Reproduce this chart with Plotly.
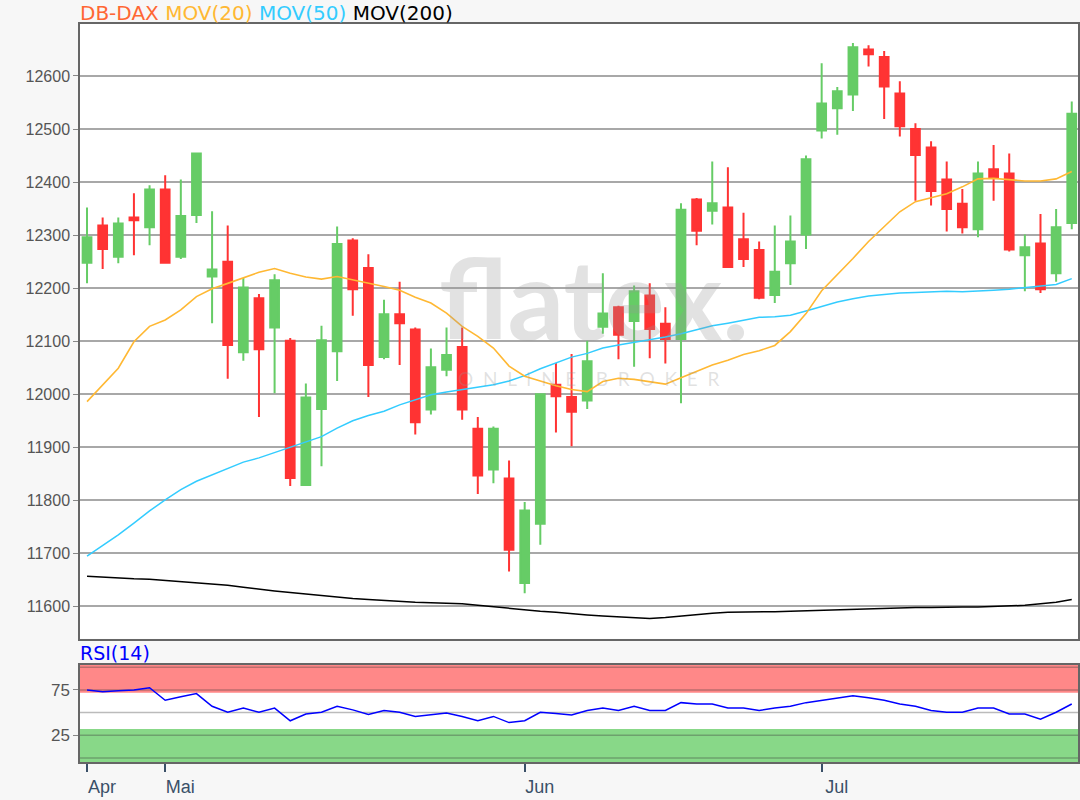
import plotly.graph_objects as go

# ---------------- data ----------------
dates = [
    "2019-04-24", "2019-04-25", "2019-04-26", "2019-04-29", "2019-04-30",
    "2019-05-01", "2019-05-02", "2019-05-03", "2019-05-06", "2019-05-07", "2019-05-08",
    "2019-05-09", "2019-05-10", "2019-05-13", "2019-05-14", "2019-05-15", "2019-05-16",
    "2019-05-17", "2019-05-20", "2019-05-21", "2019-05-22", "2019-05-23", "2019-05-24",
    "2019-05-27", "2019-05-28", "2019-05-29", "2019-05-30", "2019-05-31",
    "2019-06-03", "2019-06-04", "2019-06-05", "2019-06-06", "2019-06-07",
    "2019-06-11", "2019-06-12", "2019-06-13", "2019-06-14",
    "2019-06-17", "2019-06-18", "2019-06-19", "2019-06-20", "2019-06-21",
    "2019-06-24", "2019-06-25", "2019-06-26", "2019-06-27", "2019-06-28",
    "2019-07-01", "2019-07-02", "2019-07-03", "2019-07-04", "2019-07-05",
    "2019-07-08", "2019-07-09", "2019-07-10", "2019-07-11", "2019-07-12",
    "2019-07-15", "2019-07-16", "2019-07-17", "2019-07-18", "2019-07-19",
    "2019-07-22", "2019-07-23",
]

opens = [12248, 12318, 12259, 12333, 12315, 12386, 12259, 12338, 12222, 12250,
         12079, 12181, 12126, 12101, 11829, 11972, 12081, 12290, 12238, 12070,
         12151, 12122, 11971, 12046, 12089, 11935, 11858, 11841, 11644, 11756,
         12018, 11995, 11988, 12127, 12164, 12138, 12186, 12133, 12104, 12367,
         12346, 12352, 12292, 12272, 12187, 12247, 12301, 12497, 12539, 12565,
         12650, 12636, 12567, 12500, 12465, 12405, 12359, 12311, 12424, 12416,
         12262, 12284, 12228, 12323]
highs = [12352, 12333, 12333, 12379, 12394, 12413, 12405, 12454, 12345, 12318,
         12219, 12189, 12226, 12106, 12020, 12129, 12316, 12294, 12264, 12178,
         12212, 12126, 12086, 12126, 12126, 11957, 11939, 11875, 11797, 12002,
         12059, 12076, 12101, 12228, 12167, 12205, 12209, 12164, 12360, 12370,
         12439, 12428, 12342, 12288, 12318, 12337, 12450, 12624, 12579, 12662,
         12658, 12647, 12590, 12511, 12477, 12439, 12387, 12439, 12470, 12454,
         12301, 12340, 12349, 12552]
lows = [12209, 12236, 12247, 12262, 12281, 12247, 12255, 12323, 12134, 12029,
        12063, 11957, 12002, 11827, 11827, 11864, 12025, 12148, 11995, 12066,
        12055, 11924, 11962, 12034, 11952, 11812, 11832, 11666, 11625, 11716,
        11928, 11902, 11972, 12114, 12066, 12052, 12068, 12058, 11983, 12281,
        12320, 12240, 12240, 12179, 12172, 12206, 12274, 12482, 12489, 12534,
        12618, 12519, 12486, 12365, 12356, 12307, 12303, 12296, 12365, 12269,
        12194, 12191, 12212, 12311]
closes = [12296, 12274, 12322, 12328, 12386, 12248, 12336, 12454, 12235, 12093,
          12201, 12085, 12215, 11842, 11994, 12102, 12283, 12198, 12055, 12151,
          12134, 11947, 12051, 12074, 11971, 11847, 11935, 11707, 11781, 12000,
          11996, 11967, 12062, 12152, 12112, 12194, 12123, 12104, 12348, 12308,
          12360, 12240, 12255, 12182, 12231, 12288, 12443, 12548, 12571, 12654,
          12641, 12580, 12505, 12451, 12383, 12349, 12315, 12416, 12409, 12273,
          12277, 12198, 12315, 12529]

ma20 = [11986, 12018, 12049, 12099, 12128, 12140, 12159, 12184, 12199, 12209,
        12219, 12230, 12237, 12228, 12221, 12217, 12222, 12216, 12209, 12203,
        12196, 12183, 12172, 12153, 12128, 12109, 12087, 12053, 12034, 12025,
        12016, 12009, 12005, 12024, 12030, 12028, 12023, 12019, 12031, 12043,
        12055, 12064, 12075, 12082, 12092, 12118, 12152, 12195, 12225, 12256,
        12288, 12316, 12344, 12363, 12371, 12378, 12391, 12406, 12407, 12404,
        12402, 12402, 12406, 12420]
ma50 = [11695, 11715, 11735, 11757, 11780, 11801, 11820, 11836, 11848, 11859,
        11872, 11880, 11890, 11899, 11910, 11920, 11936, 11950, 11960, 11968,
        11980, 11990, 11999, 12004, 12009, 12014, 12018, 12025, 12035, 12048,
        12059, 12070, 12077, 12087, 12093, 12098, 12102, 12108, 12114, 12121,
        12129, 12134, 12139, 12145, 12146, 12149, 12157, 12165, 12174, 12180,
        12185, 12188, 12191, 12192, 12193, 12194, 12193, 12194, 12196, 12198,
        12201, 12203, 12207, 12218]
ma200 = [11657, 11655, 11653, 11652, 11651, 11649, 11647, 11645, 11643, 11640,
         11636, 11632, 11629, 11626, 11623, 11620, 11617, 11615, 11613, 11611,
         11609, 11608, 11607, 11606, 11605, 11602, 11599, 11596, 11593, 11591,
         11589, 11586, 11584, 11582, 11580, 11578, 11577, 11579, 11582, 11585,
         11587, 11589, 11589, 11589, 11590, 11591, 11592, 11593, 11594, 11595,
         11596, 11597, 11597, 11598, 11598, 11599, 11599, 11599, 11600, 11600,
         11602, 11605, 11608, 11613]
rsi = [75, 73, 74, 75, 77.5, 63.6, 67.4, 71, 57, 50.4,
       55, 50.4, 55, 41, 48.5, 50.4, 57, 53, 48, 52.3,
       50.4, 45.8, 47.7, 49.6, 45.8, 41, 45.8, 39, 41, 50.4,
       49, 47.3, 52.3, 55, 52.3, 57, 52.3, 52.3, 61, 59.5,
       59.5, 55, 55, 52.3, 55, 57, 61, 63.3, 65.5, 68.6,
       66.3, 63.6, 59.5, 57, 52.3, 50.4, 50.4, 55, 55, 48.5,
       48.5, 42.8, 50.4, 59.5]

price_ticks = [11600, 11700, 11800, 11900, 12000, 12100, 12200, 12300, 12400, 12500, 12600]
month_ticks = ["2019-04-24", "2019-05-01", "2019-06-03", "2019-07-01"]
month_labels = ["Apr", "Mai", "Jun", "Jul"]
rsi_ticks = [25, 75]
rsi_grid = [0, 25, 50, 75, 100]

# ---------------- styling ----------------
GREEN = "#66cc66"
RED = "#ff3333"
C20 = "#ffb833"
C50 = "#33ccff"
C200 = "#000000"
FONT = "Liberation Sans, Arial, sans-serif"

fig = go.Figure()

fig.add_trace(go.Candlestick(
    x=dates, open=opens, high=highs, low=lows, close=closes,
    increasing=dict(line=dict(color=GREEN, width=2), fillcolor=GREEN),
    decreasing=dict(line=dict(color=RED, width=2), fillcolor=RED),
    whiskerwidth=0, showlegend=False, xaxis="x", yaxis="y",
))
fig.add_trace(go.Scatter(x=dates, y=ma200, mode="lines", line=dict(color=C200, width=1.5),
                         showlegend=False, xaxis="x", yaxis="y"))
fig.add_trace(go.Scatter(x=dates, y=ma50, mode="lines", line=dict(color=C50, width=1.5),
                         showlegend=False, xaxis="x", yaxis="y"))
fig.add_trace(go.Scatter(x=dates, y=ma20, mode="lines", line=dict(color=C20, width=1.6),
                         showlegend=False, xaxis="x", yaxis="y"))
fig.add_trace(go.Scatter(x=dates, y=rsi, mode="lines", line=dict(color="#0000ff", width=1.5),
                         showlegend=False, xaxis="x2", yaxis="y2"))

# RSI bands
fig.add_shape(type="rect", xref="x2 domain", yref="y2", x0=0, x1=1, y0=72, y1=103,
              fillcolor="#ff8888", line_width=0, layer="below")
fig.add_shape(type="rect", xref="x2 domain", yref="y2", x0=0, x1=1, y0=-5, y1=32,
              fillcolor="#88d888", line_width=0, layer="below")

fig.update_layout(
    width=1080, height=800,
    margin=dict(l=80, r=2, t=24, b=38, autoexpand=False),
    paper_bgcolor="#f7f7f7", plot_bgcolor="#ffffff",
    font=dict(family=FONT, size=16, color="#555555"),
    boxgap=0.2,
    xaxis=dict(type="category", domain=[0, 1], anchor="y", range=[-0.45, 63.4],
               showticklabels=False, ticks="", showgrid=False, automargin=False,
               showline=True, mirror=True, linecolor="#666666", linewidth=1.5,
               rangeslider=dict(visible=False), fixedrange=True),
    yaxis=dict(domain=[0.167, 1.0], anchor="x", range=[11539, 12698],
               tickmode="array", tickvals=price_ticks, tickformat="d",
               ticks="outside", ticklen=5, automargin=False,
               tickcolor="#888888", tickfont=dict(size=16, color="#555555"),
               showgrid=True, gridcolor="#a8a8a8", gridwidth=1.5,
               showline=True, mirror=True, linecolor="#666666", linewidth=1.5,
               zeroline=False),
    xaxis2=dict(type="category", domain=[0, 1], anchor="y2", matches="x",
                tickmode="array", tickvals=month_ticks, ticktext=month_labels,
                ticks="outside", ticklen=8, tickwidth=1.5, tickcolor="#3a5068",
                ticklabelshift=15, automargin=False,
                tickfont=dict(size=18, color="#3a5068"), showgrid=False,
                showline=True, mirror=True, linecolor="#666666", linewidth=1.5),
    yaxis2=dict(domain=[0, 0.1314], anchor="x2", range=[-4.5, 102.5],
                tickmode="array", tickvals=rsi_ticks, ticks="outside", ticklen=5,
                tickcolor="#888888", tickfont=dict(size=17, color="#555555"),
                showgrid=False, zeroline=False, automargin=False,
                showline=True, mirror=True, linecolor="#666666", linewidth=1.5),
)

# RSI horizontal grid lines (drawn over the bands)
for v in rsi_grid:
    fig.add_shape(type="line", xref="x2 domain", yref="y2", x0=0, x1=1, y0=v, y1=v,
                  line=dict(color="rgba(60,60,60,0.35)", width=1.5), layer="below")

# header legend text
fig.add_annotation(
    xref="paper", yref="paper", x=0, y=1.0149, xanchor="left", yanchor="middle",
    showarrow=False, xshift=-2,
    text=("<span style='color:#ff6633'>DB-DAX</span> "
          "<span style='color:#ffb833'>MOV(20)</span> "
          "<span style='color:#33ccff'>MOV(50)</span> "
          "<span style='color:#000000'>MOV(200)</span>"),
    font=dict(family="DejaVu Sans, sans-serif", size=20),
)
fig.add_annotation(
    xref="paper", yref="paper", x=0, y=0.1477, xanchor="left", yanchor="middle",
    showarrow=False, text="RSI(14)", xshift=-2,
    font=dict(family="DejaVu Sans, sans-serif", size=19, color="#0000ff"),
)

# watermark
fig.add_annotation(
    xref="paper", yref="y", x=0.515, y=12185, xanchor="center", yanchor="middle",
    showarrow=False, text="flatex.",
    font=dict(family="Lato, sans-serif", size=112, weight="bold",
              color="rgba(150,150,150,0.28)"),
)
fig.add_annotation(
    xref="paper", yref="y", x=0.51, y=12030, xanchor="center", yanchor="middle",
    showarrow=False, text="O  N  L  I  N  E    B  R  O  K  E  R",
    font=dict(family="Lato, sans-serif", size=19, color="rgba(150,150,150,0.28)"),
)

fig.write_html(
    "out.html",
    config={"displayModeBar": False},
    post_script="document.body.style.margin='0';document.body.style.background='#f7f7f7';",
)
